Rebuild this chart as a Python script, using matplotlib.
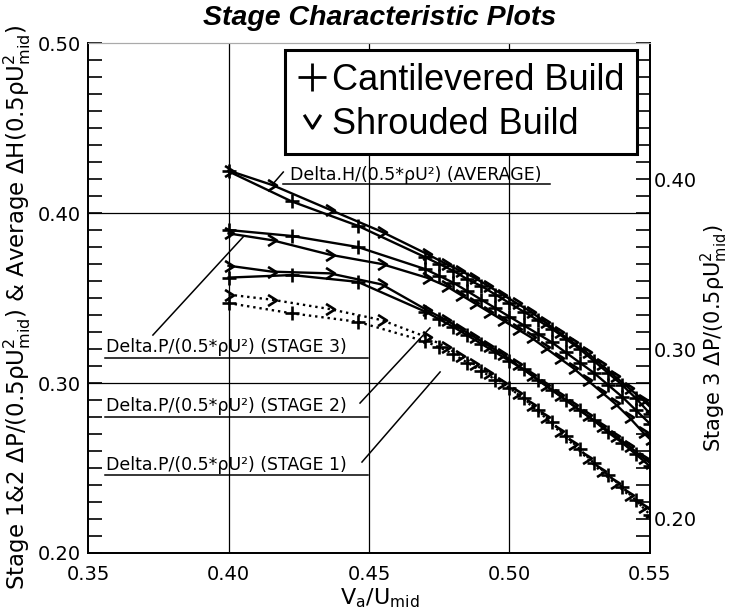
import numpy as np
import matplotlib.pyplot as plt
from matplotlib.path import Path
from matplotlib.lines import Line2D

plt.rcParams['mathtext.default'] = 'regular'

# axial velocity ratio Va/Umid at the measured points
x_cant = [0.400, 0.4225, 0.446, 0.470, 0.475, 0.480, 0.485, 0.490, 0.495, 0.500,
          0.505, 0.510, 0.515, 0.520, 0.525, 0.530, 0.535, 0.540, 0.545, 0.550]
x_shr = [0.400, 0.4155, 0.436, 0.4545, 0.4705, 0.4775, 0.4825, 0.4875, 0.4925, 0.4975,
         0.5025, 0.5075, 0.5125, 0.5175, 0.5225, 0.5275, 0.5325, 0.5375, 0.5425, 0.5475, 0.550]

# average dH/(0.5 rho U^2)  (left axis)
avg_cant = [0.4245, 0.4068, 0.3925, 0.374, 0.370, 0.366, 0.361, 0.357, 0.352, 0.347,
            0.342, 0.337, 0.332, 0.326, 0.320, 0.313, 0.306, 0.299, 0.291, 0.282]
avg_shr = [0.425, 0.4165, 0.402, 0.389, 0.376, 0.370, 0.366, 0.362, 0.357, 0.352,
           0.347, 0.342, 0.336, 0.330, 0.324, 0.318, 0.311, 0.304, 0.297, 0.290, 0.286]

# stage 3 dP/(0.5 rho U^2)  (right axis)
st3_cant = [0.370, 0.3665, 0.360, 0.347, 0.343, 0.339, 0.334, 0.329, 0.324, 0.319,
            0.314, 0.309, 0.304, 0.298, 0.292, 0.286, 0.279, 0.272, 0.264, 0.256]
st3_shr = [0.368, 0.364, 0.3555, 0.350, 0.342, 0.337, 0.332, 0.327, 0.322, 0.317,
           0.312, 0.307, 0.301, 0.295, 0.289, 0.282, 0.275, 0.268, 0.260, 0.251, 0.247]

# stage 2 dP/(0.5 rho U^2)  (left axis)
st2_cant = [0.362, 0.3635, 0.3595, 0.342, 0.3375, 0.333, 0.328, 0.323, 0.318, 0.313,
            0.308, 0.302, 0.296, 0.290, 0.284, 0.278, 0.271, 0.265, 0.258, 0.251]
st2_shr = [0.369, 0.3655, 0.3645, 0.358, 0.343, 0.337, 0.332, 0.327, 0.322, 0.317,
           0.311, 0.305, 0.299, 0.293, 0.287, 0.281, 0.275, 0.269, 0.263, 0.256, 0.253]

# stage 1 dP/(0.5 rho U^2)  (left axis)
st1_cant = [0.347, 0.341, 0.336, 0.3245, 0.321, 0.317, 0.312, 0.307, 0.302, 0.297,
            0.291, 0.284, 0.277, 0.269, 0.261, 0.253, 0.246, 0.239, 0.231, 0.2225]
st1_shr = [0.352, 0.349, 0.3435, 0.337, 0.327, 0.321, 0.316, 0.311, 0.306, 0.300,
           0.294, 0.287, 0.280, 0.272, 0.264, 0.256, 0.248, 0.241, 0.234, 0.227, 0.224]

xticks = [0.35, 0.40, 0.45, 0.50, 0.55]
left_ticks = [0.20, 0.30, 0.40, 0.50]
right_ticks = [0.20, 0.30, 0.40]

chev_right = Path([(-0.6, 0.75), (0.6, 0.0), (-0.6, -0.75)],
                  [Path.MOVETO, Path.LINETO, Path.LINETO])
chev_down = Path([(-0.75, 0.6), (0.0, -0.6), (0.75, 0.6)],
                 [Path.MOVETO, Path.LINETO, Path.LINETO])

fig = plt.figure(figsize=(7.3, 6.15), dpi=100)
ax = fig.add_axes([88/730, 1-553/615, 562/730, 510/615])
ax2 = ax.twinx()

ax.set_xlim(0.35, 0.55)
ax.set_ylim(0.20, 0.50)
ax2.set_ylim(0.18, 0.48)

cant = dict(color='k', lw=1.7, marker='+', ms=10, mew=1.9)
shr = dict(color='k', lw=1.7, marker=chev_right, ms=8, mew=1.9, mfc='none')

ax.plot(x_cant, avg_cant, **cant)
ax.plot(x_shr, avg_shr, **shr)
ax2.plot(x_cant, st3_cant, **cant)
ax2.plot(x_shr, st3_shr, **shr)
ax.plot(x_cant, st2_cant, **cant)
ax.plot(x_shr, st2_shr, **shr)
ax.plot(x_cant, st1_cant, ls=':', **cant)
ax.plot(x_shr, st1_shr, ls=':', **shr)

# grid
for gx in [0.40, 0.45, 0.50]:
    ax.axvline(gx, color='k', lw=0.9, zorder=0)
for gy in [0.30, 0.40]:
    ax.axhline(gy, color='k', lw=0.9, zorder=0)

# ticks
ax.set_xticks(xticks)
ax.set_xticklabels(['%.2f' % v for v in xticks])
ax.set_yticks(left_ticks)
ax.set_yticklabels(['%.2f' % v for v in left_ticks])
ax.set_yticks(np.arange(0.20, 0.505, 0.01), minor=True)
ax2.set_yticks(right_ticks)
ax2.set_yticklabels(['%.2f' % v for v in right_ticks])
ax2.set_yticks(np.arange(0.18, 0.485, 0.01), minor=True)

ax.tick_params(axis='x', length=0, pad=9, labelsize=14)
ax.tick_params(axis='y', which='both', direction='in', length=10, width=1.2,
               right=False, pad=5, labelsize=14)
ax2.tick_params(axis='y', which='both', direction='in', length=10, width=1.2,
                pad=3, labelsize=14)
ax2.tick_params(axis='y', which='minor', labelright=False)

for a in (ax, ax2):
    for s in ['left', 'right', 'bottom']:
        a.spines[s].set_linewidth(1.3)
    a.spines['top'].set_color('#aaaaaa')
    a.spines['top'].set_linewidth(0.8)

# axis titles
ax.set_xlabel(r'V$_a$/U$_{mid}$', fontsize=16)
ax.xaxis.set_label_coords(0.52, -0.065)
ax.set_ylabel(r'Stage 1&2 $\Delta$P/(0.5$\rho$U$_{mid}^{2}$) & Average $\Delta$H(0.5$\rho$U$_{mid}^{2}$)',
              fontsize=16.5)
ax.yaxis.set_label_coords(-0.097, 0.482)
ax2.set_ylabel(r'Stage 3 $\Delta$P/(0.5$\rho$U$_{mid}^{2}$)', fontsize=15)
ax2.yaxis.set_label_coords(1.086, 0.42)

fig.text(380/730, 1-18/615, 'Stage Characteristic Plots', ha='center', va='center',
         fontsize=20.5, fontweight='bold', fontstyle='italic', family='Liberation Sans')

# curve labels with underline and leader
lab_kw = dict(fontsize=12.5, ha='left', va='center', family='DejaVu Sans')
ax.text(0.4219, 0.4224, 'Delta.H/(0.5*ρU²) (AVERAGE)', **lab_kw)
ax.plot([0.4194, 0.5144], [0.417, 0.417], color='k', lw=1.1)
ax.plot([x_shr[1], 0.4195], [avg_shr[1], 0.4241], color='k', lw=1.1)

labels = ['Delta.P/(0.5*ρU²) (STAGE 3)', 'Delta.P/(0.5*ρU²) (STAGE 2)',
          'Delta.P/(0.5*ρU²) (STAGE 1)']
text_y = [0.3212, 0.2865, 0.2518]
line_y = [0.3147, 0.2800, 0.2459]
for lab, ty, ly in zip(labels, text_y, line_y):
    ax.text(0.3564, ty, lab, **lab_kw)
    ax.plot([0.356, 0.4496], [ly, ly], color='k', lw=1.1)

ax.plot([0.3731, 0.4052], [0.3282, 0.3859], color='k', lw=1.1)
ax.plot([0.4468, 0.4717], [0.2882, 0.3324], color='k', lw=1.1)
ax.plot([0.4475, 0.4753], [0.2535, 0.3065], color='k', lw=1.1)

handles = [Line2D([], [], ls='none', color='k', marker='+', ms=20, mew=2),
           Line2D([], [], ls='none', color='k', marker=chev_down, ms=12, mew=2.2,
                  mfc='none')]
leg = ax.legend(handles, ['Cantilevered Build', 'Shrouded Build'], loc='upper right',
                bbox_to_anchor=(0.977, 0.986), frameon=True, fancybox=False,
                handlelength=0.8, handletextpad=0.15, borderpad=0.35, labelspacing=0.25,
                borderaxespad=0, prop={'family': 'Liberation Sans', 'size': 26})
leg.get_frame().set_edgecolor('k')
leg.get_frame().set_linewidth(2.2)
leg.get_frame().set_alpha(1)

fig.savefig('out.png', dpi=100)
